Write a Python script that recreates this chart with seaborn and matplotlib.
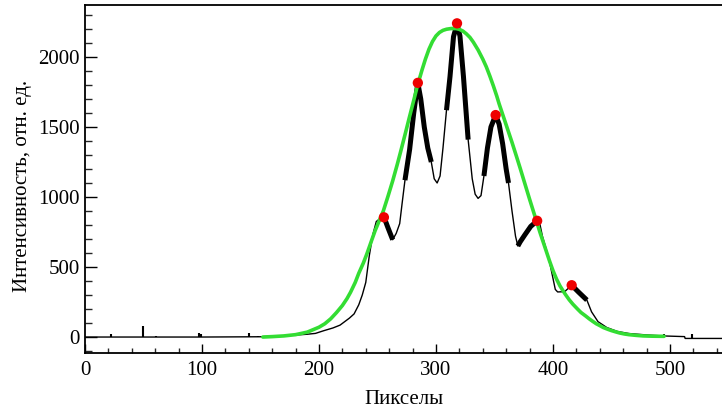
import matplotlib
matplotlib.use("Agg")
import matplotlib.pyplot as plt
import seaborn as sns
import pandas as pd
from matplotlib.ticker import MultipleLocator

# ---- data ----
profile_x = [0, 100, 150, 167, 180, 190, 197, 204, 212, 218, 222, 226, 230, 234, 237, 240,
             243, 246, 249, 252, 255.5, 259, 263, 266, 269, 271, 273.5, 277.5, 281, 284.5,
             287, 290, 293, 296, 298.5, 301, 303.5, 306, 309, 312, 315, 318, 320.5, 323.5,
             327.5, 331, 333.5, 336, 338.5, 341, 344, 347, 351, 354, 357, 360, 362, 365,
             368, 370, 372, 376, 381, 386.5, 389, 391, 394.5, 397.5, 400, 402, 404, 410,
             416, 422, 429, 433, 438.5, 446, 455, 465, 480, 494, 512.5, 513, 544.5]
profile_y = [0, 0, 2, 8, 14, 20, 26, 45, 65, 85, 110, 135, 165, 230, 300, 390,
             580, 730, 825, 845, 858, 780, 695, 740, 810, 950, 1120, 1340, 1600, 1815,
             1700, 1500, 1350, 1250, 1130, 1100, 1150, 1350, 1620, 1860, 2145, 2235, 2150, 1860,
             1410, 1130, 1020, 990, 1010, 1150, 1350, 1500, 1585, 1520, 1380, 1200, 1100, 900,
             720, 650, 680, 730, 790, 830, 800, 720, 620, 520, 420, 340, 322, 324,
             370, 320, 264, 180, 110, 68, 40, 25, 15, 8, 3, -10, -10]

# segments of the profile drawn thick (x ranges)
thick_ranges = [(255.5, 263), (273.5, 296), (309, 327.5), (341, 362), (370, 386.5), (416, 429)]

# narrow spikes on the baseline: position, base, top
spike_x = [22, 49.5, 61, 97.5, 99, 140, 148, 494.5, 518.5]
spike_base = [0, 0, 0, 0, 0, 0, 0, 8, -10]
spike_top = [25, 80, 6, 30, 20, 30, 10, 25, 25]

# Gaussian fit curve (green)
fit_x = [152, 160, 170, 180, 190, 200, 205, 210, 215, 220, 224, 227, 231, 234, 238, 241,
         245, 248, 252, 255, 259, 263, 267, 270, 274, 277, 281, 284, 288, 291, 294, 297,
         300, 303, 306, 309, 313, 317, 320, 323, 326, 329, 332, 336, 340, 343, 346, 349,
         352, 354, 358, 361, 365, 369, 372, 376, 380, 383, 386, 389, 392, 394, 397, 400,
         403, 406, 409, 411, 414, 417, 421, 424, 428, 431, 434, 437, 440, 443, 447, 450,
         454, 457, 461, 465, 471, 477, 485, 495]
fit_y = [0, 3, 8, 17, 35, 70, 95, 130, 175, 225, 275, 320, 390, 455, 530, 595,
         690, 760, 840, 900, 1005, 1115, 1235, 1330, 1460, 1560, 1690, 1790, 1905, 1985, 2055, 2110,
         2150, 2175, 2190, 2198, 2203, 2203, 2197, 2185, 2165, 2140, 2105, 2050, 1985, 1930, 1865, 1795,
         1720, 1665, 1565, 1490, 1390, 1285, 1205, 1095, 985, 905, 825, 745, 670, 620, 545, 475,
         415, 365, 325, 300, 265, 235, 200, 175, 150, 130, 112, 95, 82, 68, 55, 46,
         36, 29, 22, 17, 12, 8, 6, 5]

# detected peaks (red)
peak_x = [255.5, 284.5, 318, 351, 386.5, 416]
peak_y = [855, 1815, 2240, 1585, 830, 370]

xlabel = "Пикселы"
ylabel = "Интенсивность, отн. ед."
xticks = [0, 100, 200, 300, 400, 500]
yticks = [0, 500, 1000, 1500, 2000]

# ---- plotting ----
sns.set_theme(style="white")
plt.rcParams['font.family'] = ['Liberation Serif', 'DejaVu Serif']

fig = plt.figure(figsize=(7.22, 4.11), dpi=100)
ax = fig.add_axes([85 / 722, 58 / 411, 1 - 85 / 722, (353 - 5) / 411])

prof = pd.DataFrame({"x": profile_x, "y": profile_y})
sns.lineplot(data=prof, x="x", y="y", ax=ax, color="black", linewidth=1.0,
             sort=False, estimator=None)

ax.vlines(spike_x, spike_base, spike_top, color="black", linewidth=1.5)

for a, b in thick_ranges:
    seg = prof[(prof.x >= a) & (prof.x <= b)]
    sns.lineplot(data=seg, x="x", y="y", ax=ax, color="black", linewidth=3.6,
                 sort=False, estimator=None, solid_capstyle="butt")

fit = pd.DataFrame({"x": fit_x, "y": fit_y})
sns.lineplot(data=fit, x="x", y="y", ax=ax, color="#33dd33", linewidth=2.6,
             sort=False, estimator=None, zorder=4, solid_joinstyle="round")

peaks = pd.DataFrame({"x": peak_x, "y": peak_y})
sns.scatterplot(data=peaks, x="x", y="y", ax=ax, color="#ee0000", s=55,
                edgecolor="none", zorder=5)

ax.set_xlim(0, 544.5)
ax.set_ylim(-114, 2371)
ax.set_xticks(xticks)
ax.set_yticks(yticks)
ax.xaxis.set_minor_locator(MultipleLocator(20))
ax.yaxis.set_minor_locator(MultipleLocator(100))
ax.tick_params(axis="x", which="major", direction="in", length=6.5, width=1, pad=6,
               labelsize=15, colors="black", bottom=True)
ax.tick_params(axis="x", which="minor", direction="in", length=3.5, width=1, bottom=True)
ax.tick_params(axis="y", which="major", direction="in", length=8.5, width=1, pad=4,
               labelsize=15, colors="black", left=True)
ax.tick_params(axis="y", which="minor", direction="in", length=5, width=1, left=True)

for s in ["left", "bottom", "top"]:
    ax.spines[s].set_visible(True)
    ax.spines[s].set_color("black")
    ax.spines[s].set_linewidth(1.3)
ax.spines["right"].set_visible(False)

ax.set_xlabel(xlabel, fontsize=15, color="black", labelpad=7)
ax.set_ylabel(ylabel, fontsize=15, color="black")
ax.yaxis.set_label_coords(-0.083, 0.48)
ax.grid(False)

fig.savefig("out.png", dpi=100)
